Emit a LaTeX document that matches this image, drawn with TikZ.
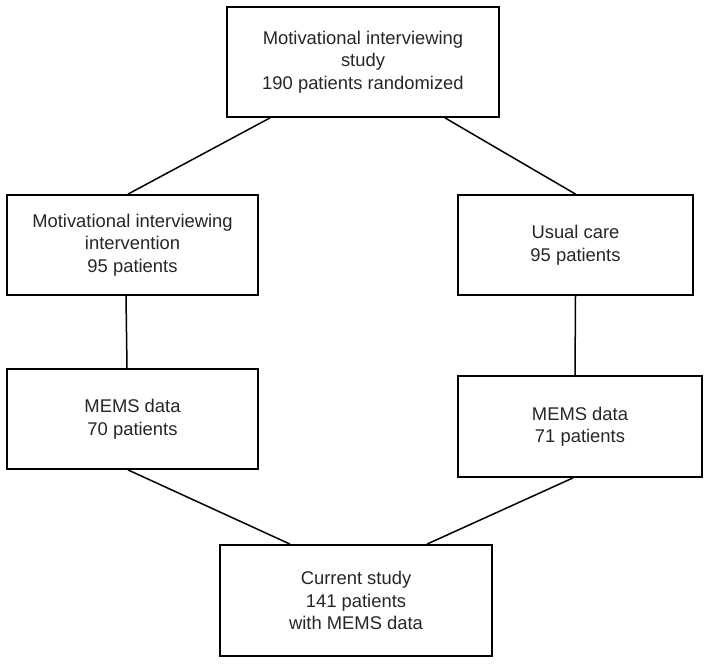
\documentclass[tikz,border=0pt]{standalone}
\usepackage{fontspec}
\setmainfont{Liberation Sans}

\begin{document}
\begin{tikzpicture}[x=1pt,y=-1pt]
  \tikzstyle box=[draw,line width=1.8pt,align=center,inner sep=0pt,text=black!85,font=\fontsize{18.4}{22.5}\selectfont];
  \tikzstyle ln=[line width=1.5pt];

  \useasboundingbox (0,0) rectangle (709,664);

  % boxes
  \node[box,minimum width=272pt,minimum height=110pt] (study) at (363,62)
    {Motivational interviewing\\study\\190 patients randomized};
  \node[box,minimum width=251pt,minimum height=100pt] (mi) at (132.5,245)
    {Motivational interviewing\\intervention\\95 patients};
  \node[box,minimum width=235pt,minimum height=100pt] (uc) at (575.5,245)
    {Usual care\\95 patients};
  \node[box,minimum width=251pt,minimum height=100pt] (memsA) at (132.5,419)
    {MEMS data\\70 patients};
  \node[box,minimum width=244pt,minimum height=101pt] (memsB) at (580,426.5)
    {MEMS data\\71 patients};
  \node[box,minimum width=272pt,minimum height=111pt] (cur) at (356,600.5)
    {Current study\\141 patients\\with MEMS data};

  % connectors
  \draw[ln] ([xshift=-93pt]study.south) -- ([xshift=-4.5pt]mi.north);
  \draw[ln] ([xshift=82pt]study.south) -- (uc.north);
  \draw[ln] ([xshift=-6.5pt]mi.south) -- ([xshift=-5.5pt]memsA.north);
  \draw[ln] (uc.south) -- ([xshift=-5pt]memsB.north);
  \draw[ln] ([xshift=-4.5pt]memsA.south) -- ([xshift=-66pt]cur.north);
  \draw[ln] ([xshift=-7pt]memsB.south) -- ([xshift=71pt]cur.north);
\end{tikzpicture}
\end{document}
